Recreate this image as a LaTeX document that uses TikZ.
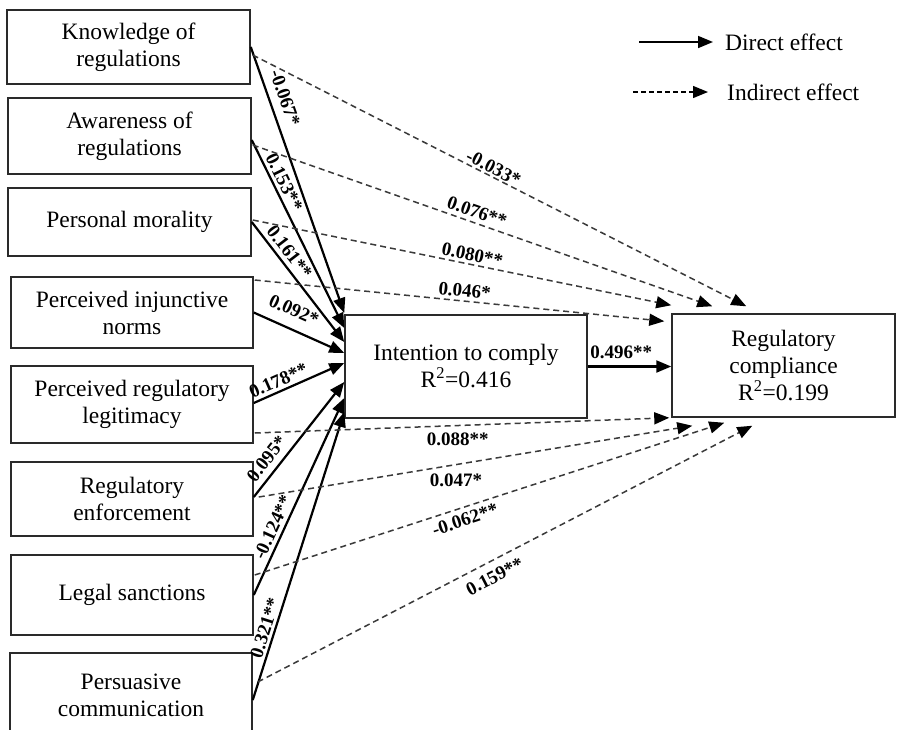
\documentclass[tikz,border=0pt]{standalone}
\usepackage{fontspec}
\setmainfont{Liberation Serif}
\usetikzlibrary{arrows.meta,calc}
\definecolor{boxcol}{HTML}{2A2A2A}
\definecolor{dashcol}{HTML}{3A3A3A}
\begin{document}
\begin{tikzpicture}[x=1pt,y=-1pt,
  box/.style={draw=boxcol, line width=1.5pt, align=center, inner sep=0pt, font=\fontsize{23.5}{27}\selectfont},
  direct/.style={line width=2.2pt, -{Triangle[length=15pt,width=12pt]}},
  indirect/.style={line width=1.5pt, draw=dashcol, dash pattern=on 6pt off 4pt, -{Triangle[length=15pt,width=12pt,color=black]}},
  lab/.style={font=\fontsize{19}{19}\selectfont\bfseries, inner sep=1pt},
  legtext/.style={font=\fontsize{23.5}{27}\selectfont, inner sep=0pt, anchor=west}]
\useasboundingbox (0,0) rectangle (904,729);
\clip (0,0) rectangle (904,729);
\fill[white] (0,0) rectangle (904,729);

% left boxes
\node[box, minimum width=243pt, minimum height=74pt] (k) at (128.5,47) {Knowledge of\\regulations};
\node[box, minimum width=243pt, minimum height=76pt] (a) at (129.5,136) {Awareness of\\regulations};
\node[box, minimum width=243pt, minimum height=68pt] (m) at (129.5,222) {Personal morality};
\node[box, minimum width=242pt, minimum height=71pt] (n) at (132,312.5) {Perceived injunctive\\norms};
\node[box, minimum width=242pt, minimum height=77pt] (l) at (132,404.5) {Perceived regulatory\\legitimacy};
\node[box, minimum width=242pt, minimum height=74pt] (e) at (132,499) {Regulatory\\enforcement};
\node[box, minimum width=242pt, minimum height=80pt] (s) at (132,595) {Legal sanctions};
\node[box, minimum width=242pt, minimum height=84pt] (p) at (131,695) {Persuasive\\communication};

% middle and right boxes
\node[box, minimum width=242pt, minimum height=103pt] (int) at (466,366.5) {Intention to comply\\R\textsuperscript{2}=0.416};
\node[box, minimum width=223pt, minimum height=103pt] (rc) at (783.5,365.5) {Regulatory\\compliance\\R\textsuperscript{2}=0.199};

% direct effects
\draw[direct] (k.east) -- node[lab, sloped, above=7pt, pos=.21] {-0.067*} ($(int.west)+(0,-53.5)$);
\draw[direct] ($(a.east)+(0,4)$) -- node[lab, sloped, above=2pt, pos=.25] {0.153**} ($(int.west)+(0,-38.5)$);
\draw[direct] (m.east) -- node[lab, sloped, above=3pt, pos=.31] {0.161**} ($(int.west)+(0,-24.5)$);
\draw[direct] (n.east) -- node[lab, sloped, above=10pt, pos=.36] {0.092*} ($(int.west)+(0,-13.5)$);
\draw[direct] ($(l.east)+(0,-1.5)$) -- node[lab, sloped, above=2pt, pos=.32] {0.178**} ($(int.west)+(0,-3.5)$);
\draw[direct] ($(e.east)+(0,-2)$) -- node[lab, sloped, above=5pt, pos=.26] {0.095*} ($(int.west)+(0,15.5)$);
\draw[direct] (s.east) -- node[lab, sloped, above=2.5pt, pos=.32] {-0.124**} ($(int.west)+(0,31.5)$);
\draw[direct] ($(p.east)+(0,5)$) -- node[lab, sloped, above=1.5pt, pos=.24] {0.321**} ($(int.west)+(0,45.5)$);

% mediation
\draw[direct] (int.east) -- node[lab, above=6pt, pos=.4] {0.496**} (int.east -| rc.west);

% indirect effects
\draw[indirect] ($(k.east)+(2,8)$) -- node[lab, sloped, above=0.5pt, pos=.48] {-0.033*} ($(rc.north west)+(75,-7)$);
\draw[indirect] ($(a.east)+(1,9)$) -- node[lab, sloped, above=3pt, pos=.48] {0.076**} ($(rc.north west)+(41,-7)$);
\draw[indirect] ($(m.east)+(1,-2)$) -- node[lab, sloped, above=1.5pt, pos=.52] {0.080**} ($(rc.north west)+(0,-8)$);
\draw[indirect] ($(n.east)+(1,-32.5)$) -- node[lab, sloped, above=2pt, pos=.51] {0.046*} ($(rc.north west)+(-7,8)$);
\draw[indirect] ($(l.east)+(1,28.5)$) -- node[lab, below=6pt, pos=.49] {0.088**} ($(rc.south west)+(-2,0)$);
\draw[indirect] ($(e.east)+(5,-2)$) -- node[lab, below=8pt, pos=.455] {0.047*} ($(rc.south west)+(21,8)$);
\draw[indirect] ($(s.east)+(1,-20)$) -- node[lab, sloped, below=4pt, pos=.44] {-0.062**} ($(rc.south west)+(53,5)$);
\draw[indirect] ($(p.east)+(5,-13)$) -- node[lab, sloped, below=7pt, pos=.465] {0.159**} ($(rc.south west)+(81,8)$);

% legend
\coordinate (d1) at (639,42);
\coordinate (d2) at (713,42);
\draw[line width=1.6pt, -{Triangle[length=15pt,width=12pt]}] (d1) -- (d2);
\node[legtext] (dt) at (725,42) {Direct effect};
\coordinate (i1) at (633,92);
\coordinate (i2) at (708,92);
\draw[line width=1.3pt, draw=black, dash pattern=on 5pt off 3pt, -{Triangle[length=15pt,width=12pt,color=black]}] (i1) -- (i2);
\node[legtext] (it) at (727,92) {Indirect effect};
\end{tikzpicture}
\end{document}
